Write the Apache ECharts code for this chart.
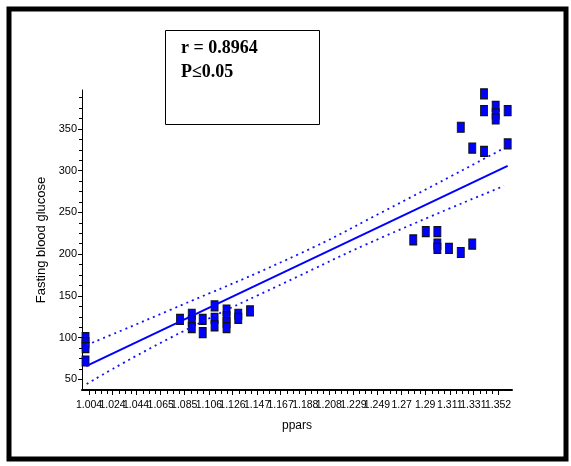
<!DOCTYPE html>
<html><head><meta charset="utf-8">
<script src="https://cdn.jsdelivr.net/npm/echarts@6/dist/echarts.min.js"></script>
<style>html,body{margin:0;padding:0;background:#fff}#c{width:571px;height:466px}</style>
</head><body><div id="c"></div>
<script>
// ---- data ----
const xTickLabels = ['1.004','1.024','1.044','1.065','1.085','1.106','1.126','1.147','1.167','1.188','1.208','1.229','1.249','1.27','1.29','1.311','1.331','1.352'];
const yTickLabels = [50, 100, 150, 200, 250, 300, 350];
const ptsX = [1.001,1.001,1.001,1.001,
  1.0814,1.0914,1.0914,1.0914,1.1007,1.1007,1.1108,1.1108,1.1108,1.1210,1.1210,1.1210,1.1210,1.1310,1.1310,1.1410,
  1.2799,1.2905,1.3004,1.3004,1.3004,1.3103,1.3203,1.3301,
  1.3203,1.3301,1.3401,1.3401,1.3401,1.3500,1.3500,1.3500,1.3602,1.3602];
const ptsY = [100,94,88,72,
  122,128,120,112,122,106,138,123,114,133,125,118,112,128,123,132,
  217,227,227,212,207,207,202,212,
  352,327,323,372,392,377,368,362,372,332];
const fitX = [1.0015, 1.3602];
const fitY = [66, 305.7];
const bandX = [1.002, 1.0729, 1.1827, 1.2516, 1.3571];
const upperY = [91.2, 133.1, 200.2, 249.0, 326.9];
const lowerY = [44.5, 99.6, 173.9, 219.0, 281.7];
const statText = ['r = 0.8964', 'P\u22640.05'];
const xName = 'ppars', yName = 'Fasting blood glucose';

// ---- build ----
const xMajor = xTickLabels.map(Number);
const xStep = (xMajor[xMajor.length-1]-xMajor[0])/(xMajor.length-1);
const xMinor = [];
for (let i = 0; i < xMajor.length-1; i++) for (let k = 1; k < 4; k++) xMinor.push(xMajor[0] + (i + k/4)*xStep);
const yMinor = [];
for (let v = 50; v <= 387.5; v += 12.5) if (v % 50 !== 0) yMinor.push(v);
const xEven = xMajor.filter((v, i) => i % 2 === 0);
const xOdd = xMajor.filter((v, i) => i % 2 === 1);
const fmtX = v => { const i = xMajor.findIndex(m => Math.abs(m - v) < 1e-6); return i >= 0 ? xTickLabels[i] : ''; };

const XMIN = 0.998, XMAX = 1.3639, YMIN = 37.3, YMAX = 396.6;
const sans = "'Liberation Sans', Arial, sans-serif";
const zip = (a, b) => a.map((v, i) => [v, b[i]]);
const labelStyle = {fontFamily: sans, fontSize: 10.5, color: '#000', margin: 10, showMinLabel: true, showMaxLabel: true, hideOverlap: false, formatter: fmtX};

const chart = echarts.init(document.getElementById('c'), null, {renderer: 'canvas'});
const baseX = {type: 'value', min: XMIN, max: XMAX, splitLine: {show: false}, position: 'bottom', offset: 0};
const baseY = {type: 'value', min: YMIN, max: YMAX, splitLine: {show: false}, position: 'left', offset: 0};
chart.setOption({
  animation: false,
  backgroundColor: '#fff',
  grid: {left: 82, right: 59, top: 90, bottom: 76, containLabel: false},
  xAxis: [
    Object.assign({}, baseX, {
      name: xName, nameLocation: 'middle', nameGap: 30,
      nameTextStyle: {fontFamily: sans, fontSize: 12, color: '#000'},
      axisLine: {show: true, onZero: false, lineStyle: {color: '#000', width: 2}},
      axisTick: {show: true, length: 5, customValues: xMajor, lineStyle: {color: '#000', width: 1}},
      axisLabel: Object.assign({customValues: xEven}, labelStyle)
    }),
    Object.assign({}, baseX, {
      axisLine: {show: false, onZero: false},
      axisTick: {show: false},
      axisLabel: Object.assign({customValues: xOdd}, labelStyle)
    }),
    Object.assign({}, baseX, {
      axisLine: {show: false, onZero: false}, axisLabel: {show: false},
      axisTick: {show: true, length: 4, customValues: xMinor, lineStyle: {color: '#000', width: 1}}
    })
  ],
  yAxis: [
    Object.assign({}, baseY, {
      name: yName, nameLocation: 'middle', nameGap: 29,
      nameTextStyle: {fontFamily: sans, fontSize: 13, color: '#000'},
      axisLine: {show: true, onZero: false, lineStyle: {color: '#000', width: 1}},
      axisTick: {show: true, length: 4, customValues: yTickLabels, lineStyle: {color: '#000'}},
      axisLabel: {customValues: yTickLabels, showMinLabel: true, showMaxLabel: true, fontFamily: sans, fontSize: 11, color: '#000', margin: 5}
    }),
    Object.assign({}, baseY, {
      axisLine: {show: false, onZero: false}, axisLabel: {show: false},
      axisTick: {show: true, length: 3, customValues: yMinor, lineStyle: {color: '#000'}}
    })
  ],
  series: [
    {type: 'line', data: zip(bandX, upperY), smooth: true, symbol: 'none',
     lineStyle: {color: '#1010ff', width: 1.8, type: [2, 4]}},
    {type: 'line', data: zip(bandX, lowerY), smooth: true, symbol: 'none',
     lineStyle: {color: '#1010ff', width: 1.8, type: [2, 4]}},
    {type: 'line', data: zip(fitX, fitY), symbol: 'none',
     lineStyle: {color: '#0000ff', width: 2}},
    {type: 'scatter', data: zip(ptsX, ptsY), symbol: 'rect', symbolSize: [7, 10],
     itemStyle: {color: '#0000ff', borderColor: '#111', borderWidth: 1, opacity: 1}}
  ],
  graphic: [
    {type: 'rect', shape: {x: 9, y: 9, width: 557, height: 450}, style: {fill: 'none', stroke: '#000', lineWidth: 5}},
    {type: 'rect', shape: {x: 165.5, y: 30.5, width: 154, height: 94}, style: {fill: '#fff', stroke: '#000', lineWidth: 1}},
    {type: 'text', x: 181, y: 48, style: {text: statText[0], font: "bold 18px 'Liberation Serif', 'Times New Roman', serif", fill: '#000', verticalAlign: 'middle'}},
    {type: 'text', x: 181, y: 72, style: {text: statText[1], font: "bold 18px 'Liberation Serif', 'Times New Roman', serif", fill: '#000', verticalAlign: 'middle'}}
  ]
});
</script>
</body></html>
